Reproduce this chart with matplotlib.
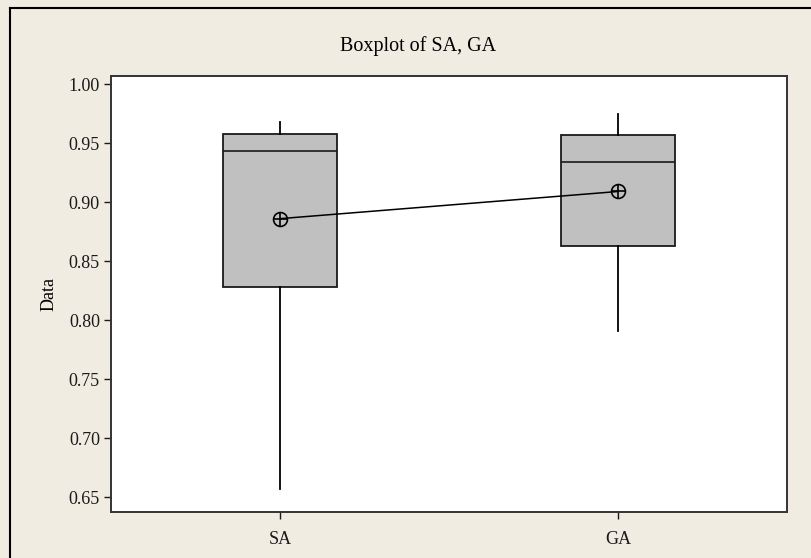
import matplotlib
matplotlib.use("Agg")
import matplotlib.pyplot as plt
from matplotlib.lines import Line2D

plt.rcParams['font.family'] = ['Liberation Serif', 'DejaVu Serif']

categories = ["SA", "GA"]
whisker_low = [0.657, 0.791]
q1 = [0.828, 0.863]
median = [0.943, 0.934]
q3 = [0.958, 0.957]
whisker_high = [0.968, 0.975]
means = [0.886, 0.909]

W, H = 812, 558
fig = plt.figure(figsize=(W / 100, H / 100), dpi=100)
bg = '#F0ECE2'
fig.patch.set_facecolor(bg)

ax = fig.add_axes([111 / W, 1 - 512 / H, (787 - 111) / W, (512 - 76) / H])
ax.set_facecolor('white')

stats = []
for i, c in enumerate(categories):
    stats.append(dict(label=c, whislo=whisker_low[i], q1=q1[i], med=median[i],
                      q3=q3[i], whishi=whisker_high[i], mean=means[i], fliers=[]))

positions = list(range(1, len(categories) + 1))
ax.bxp(stats, positions=positions, widths=0.336, patch_artist=True,
       showcaps=False, showfliers=False, showmeans=False,
       boxprops=dict(facecolor='#C0C0C0', edgecolor='#1a1a1a', linewidth=1.3),
       medianprops=dict(color='#1a1a1a', linewidth=1.2),
       whiskerprops=dict(color='black', linewidth=1.3))

ax.plot(positions, means, color='black', linewidth=1.1, zorder=5)
ax.plot(positions, means, linestyle='none', marker='o', markersize=10,
        markerfacecolor='none', markeredgecolor='black', markeredgewidth=1.2, zorder=6)
ax.plot(positions, means, linestyle='none', marker='+', markersize=10,
        markeredgecolor='black', markeredgewidth=1.2, zorder=6)

ax.set_xlim(0.5, 2.5)
ax.set_ylim(0.6376, 1.0068)
yt = [0.65, 0.70, 0.75, 0.80, 0.85, 0.90, 0.95, 1.00]
ax.set_yticks(yt)
ax.set_yticklabels([f"{v:.2f}" for v in yt])
ax.set_xticks(positions)
ax.set_xticklabels(categories)
ax.tick_params(direction='out', length=5, width=1.0, labelsize=13, colors='#1a1a1a')
ax.tick_params(axis='x', pad=9)
ax.tick_params(axis='y', pad=3)
for s in ax.spines.values():
    s.set_linewidth(1.4)
    s.set_color('#333333')

ax.set_ylabel("Data", fontsize=13, labelpad=8)
fig.text(418 / W, 1 - 46 / H, "Boxplot of SA, GA", ha='center', va='center', fontsize=14.5)

fig.add_artist(Line2D([10 / W, 10 / W], [0, 1 - 8 / H], transform=fig.transFigure,
                      color='black', linewidth=1.5))
fig.add_artist(Line2D([10 / W, 1], [1 - 8 / H, 1 - 8 / H], transform=fig.transFigure,
                      color='black', linewidth=1.5))

fig.savefig("out.png", dpi=100, facecolor=bg)
